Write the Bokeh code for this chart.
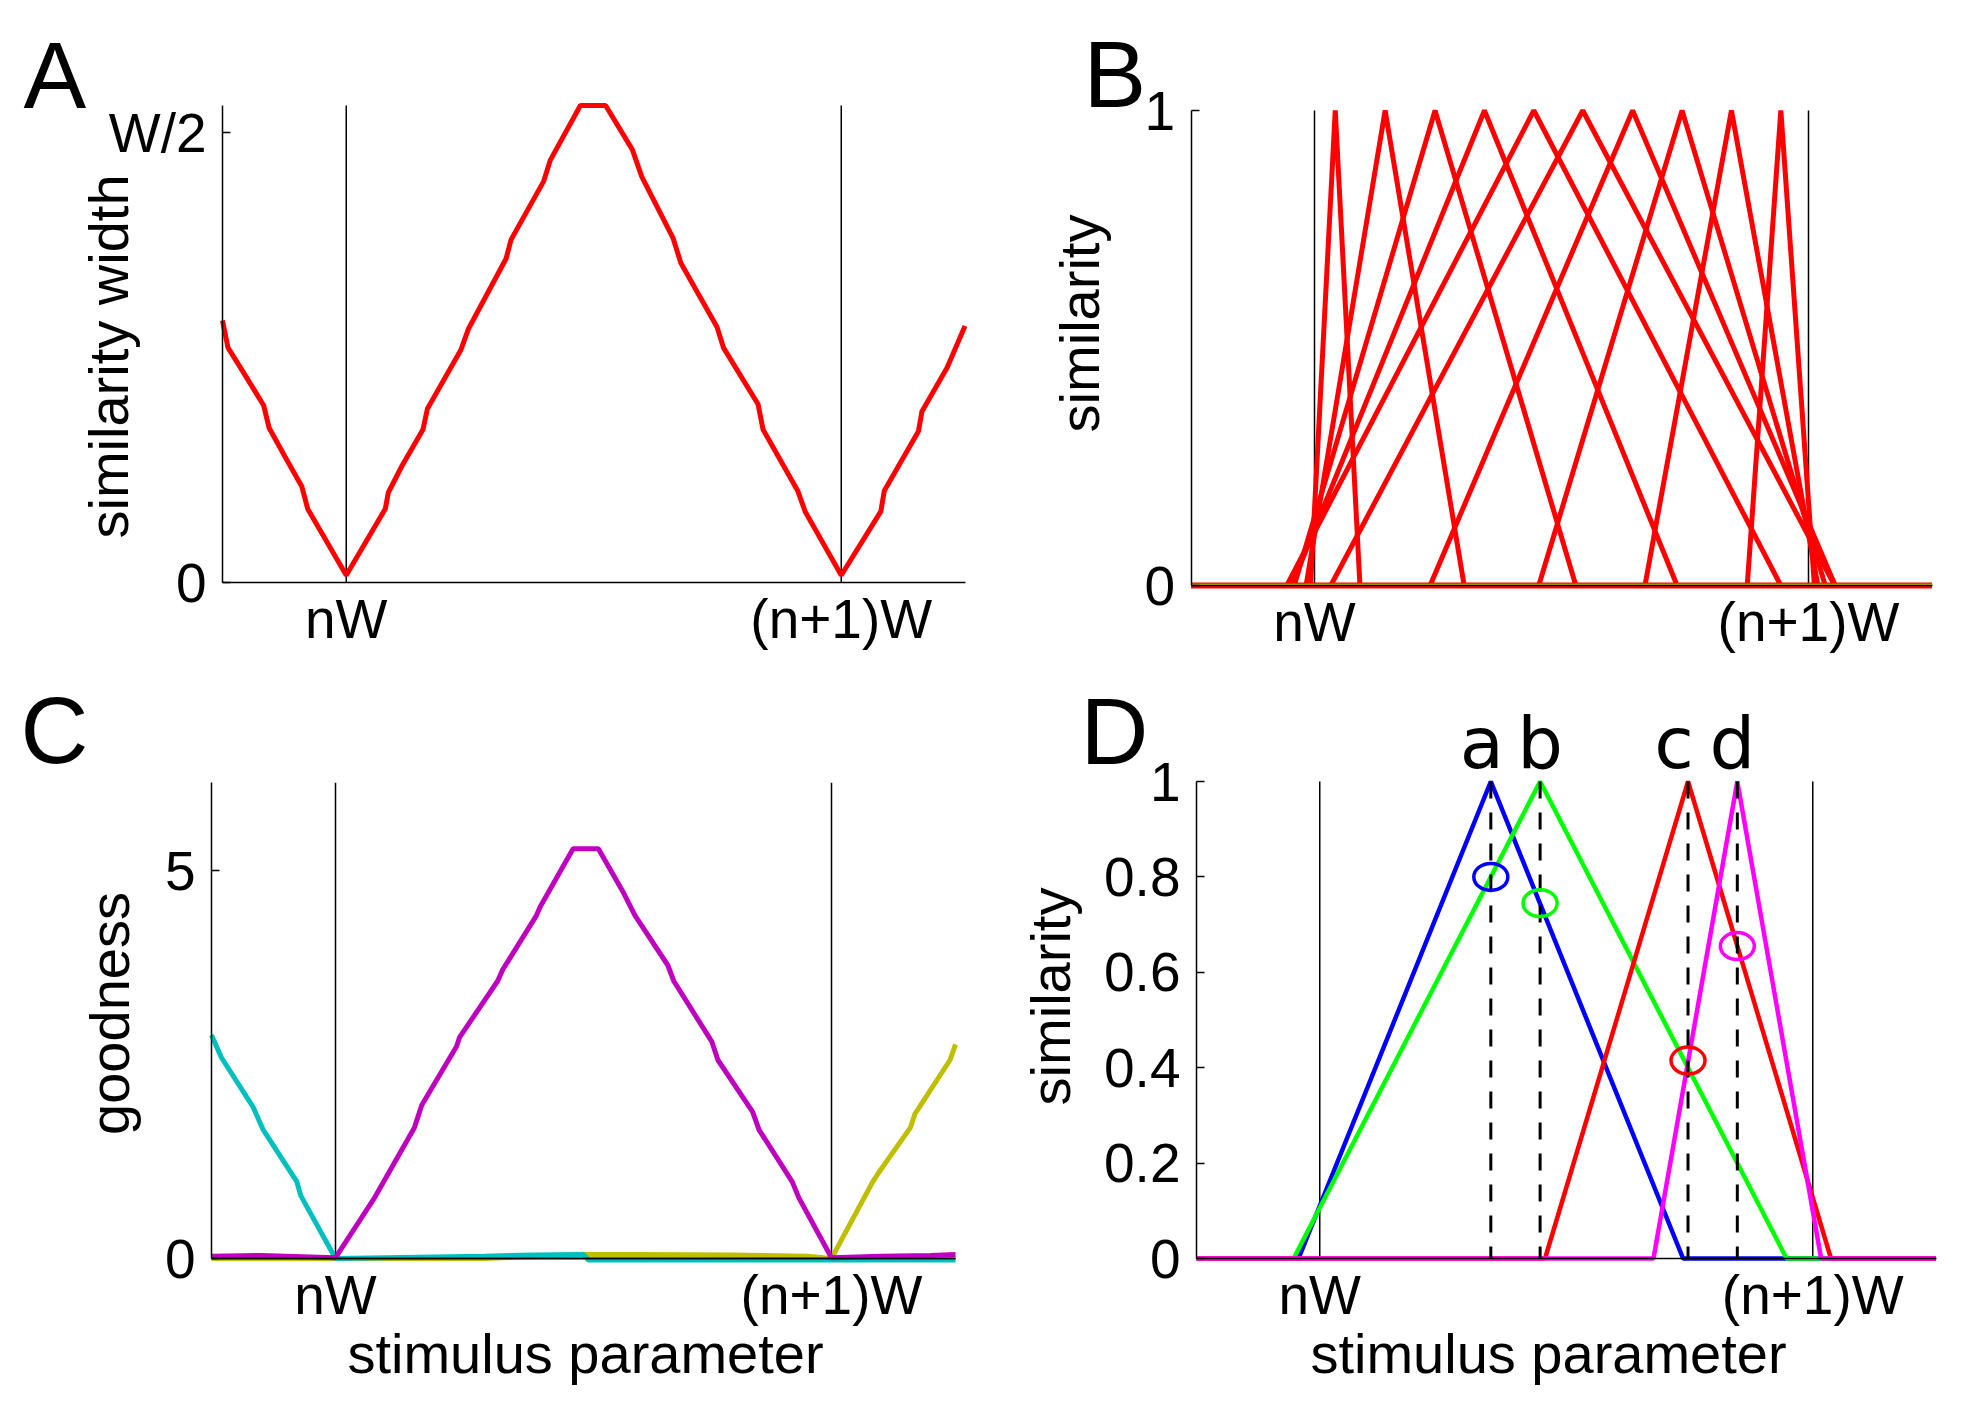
import numpy as np
from bokeh.plotting import figure
from bokeh.models import FixedTicker, Label, Range1d
from bokeh.layouts import column, row
from bokeh.embed import file_html
from bokeh.resources import INLINE

# ---------------- data ----------------
X_TICKS = [0, 1]
X_TICK_LABELS = {0: "nW", 1: "(n+1)W"}
BOUNDS = [0, 1]  # nW and (n+1)W
XMIN, XMAX = -0.25, 1.25

# Panel A: similarity width vs stimulus parameter
A_x = [-0.25, -0.239, -0.214, -0.167, -0.156, -0.122, -0.090, -0.078, 0.0, 0.079, 0.085,
       0.113, 0.155, 0.164, 0.232, 0.247, 0.323, 0.333, 0.399, 0.412, 0.473, 0.524, 0.578,
       0.597, 0.660, 0.676, 0.749, 0.762, 0.832, 0.842, 0.912, 0.927, 1.0, 1.080, 1.087,
       1.156, 1.163, 1.214, 1.25]
A_y = [0.291, 0.261, 0.239, 0.197, 0.172, 0.138, 0.107, 0.082, 0.008, 0.082, 0.100,
       0.130, 0.170, 0.193, 0.259, 0.282, 0.360, 0.381, 0.446, 0.469, 0.530, 0.530, 0.481,
       0.451, 0.383, 0.355, 0.284, 0.261, 0.198, 0.170, 0.102, 0.079, 0.008, 0.079, 0.102,
       0.168, 0.190, 0.239, 0.285]
A_yticks = [0, 0.5]
A_ylabels = {0: "0", 0.5: "W/2"}

# Panel B: similarity functions (triangles)
B_peaks = [0.042, 0.143, 0.244, 0.344, 0.444, 0.543, 0.644, 0.744, 0.844, 0.944]
B_halfwidth = [0.05, 0.16, 0.285, 0.39, 0.50, 0.51, 0.41, 0.29, 0.175, 0.068]
B_yticks = [0, 1]

# Panel C: goodness
C_cyan_x = [-0.25, -0.230, -0.166, -0.146, -0.078, -0.070, 0.0, 0.1, 0.2, 0.3, 0.4, 0.5,
            0.51, 0.7, 0.9, 1.0, 1.1, 1.25]
C_cyan_y = [2.88, 2.59, 1.95, 1.66, 0.99, 0.81, 0.0, 0.01, 0.02, 0.03, 0.045, 0.05,
            -0.02, -0.02, -0.02, -0.02, -0.02, -0.02]
C_mag_x = [-0.25, -0.15, -0.05, 0.0, 0.079, 0.159, 0.174, 0.244, 0.250, 0.327, 0.337, 0.405,
           0.413, 0.479, 0.530, 0.581, 0.604, 0.670, 0.682, 0.759, 0.771, 0.841, 0.854,
           0.921, 0.934, 1.0, 1.1, 1.2, 1.25]
C_mag_y = [0.03, 0.04, 0.02, 0.01, 0.785, 1.686, 1.977, 2.733, 2.849, 3.576, 3.721, 4.419,
           4.535, 5.279, 5.279, 4.709, 4.419, 3.779, 3.576, 2.791, 2.558, 1.890, 1.657,
           0.988, 0.785, 0.01, 0.03, 0.04, 0.05]
C_olive_x = [-0.25, 0.0, 0.3, 0.5, 0.6, 0.8, 0.95, 1.0, 1.083, 1.095, 1.159, 1.168, 1.239, 1.25]
C_olive_y = [0.0, 0.0, 0.0, 0.05, 0.05, 0.045, 0.03, 0.0, 0.988, 1.105, 1.686, 1.86, 2.558, 2.76]
C_red_x = [-0.25, 1.25]
C_red_y = [0.0, 0.0]
C_yticks = [0, 5]

# Panel D: four stimuli a-d
D_names = ["a", "b", "c", "d"]
D_peaks = [0.347, 0.447, 0.747, 0.847]
D_halfwidth = [0.39, 0.50, 0.29, 0.17]
D_circle_y = [0.80, 0.745, 0.415, 0.655]
D_colors = ["#0000ff", "#00ff00", "#ff0000", "#ff00ff"]
D_yticks = [0, 0.2, 0.4, 0.6, 0.8, 1]
D_ylabels = {0: "0", 0.2: "0.2", 0.4: "0.4", 0.6: "0.6", 0.8: "0.8", 1: "1"}

# ---------------- styling / layout helpers ----------------
FONT = "Liberation Sans"
TICK_FS = "55px"
LABEL_FS = "56px"
LETTER_FS = "94px"
ROW1_TOP, ROW2_TOP, PAGE_BOTTOM = 8, 670, 1404


class Panel:
    """A figure whose frame covers its whole page box; axes sit at fixed data locations."""

    def __init__(self, box, px_xmin, ppu_x, px_zero, ppu_y, ytop, yticks, yover=None):
        bx, by, bw, bh = box
        self.bx, self.by = bx, by
        self.ppu_x, self.ppu_y, self.px_zero = ppu_x, ppu_y, px_zero
        self.x0 = XMIN - (px_xmin - bx) / ppu_x
        x1 = self.x0 + bw / ppu_x
        y1 = (px_zero - by) / ppu_y
        y0 = y1 - bh / ppu_y
        p = figure(width=bw, height=bh, x_range=Range1d(self.x0, x1),
                   y_range=Range1d(y0, y1), output_backend="svg",
                   toolbar_location=None, min_border=0)
        p.min_border_left = p.min_border_right = 0
        p.min_border_top = p.min_border_bottom = 0
        p.grid.visible = False
        p.outline_line_color = None
        p.background_fill_color = "white"
        p.border_fill_color = "white"

        xa = p.xaxis[0]
        xa.fixed_location = 0
        xa.bounds = (XMIN, XMAX)
        xa.ticker = FixedTicker(ticks=X_TICKS)
        xa.major_label_overrides = X_TICK_LABELS
        xa.axis_line_color = "black"
        xa.axis_line_width = 1.5
        xa.major_tick_line_color = None
        xa.major_tick_in = 0
        xa.major_tick_out = 0
        xa.minor_tick_line_color = None
        xa.major_label_text_font = FONT
        xa.major_label_text_font_size = TICK_FS
        xa.major_label_text_color = "black"
        xa.major_label_standoff = 5

        ya = p.yaxis[0]
        ya.fixed_location = XMIN
        ya.bounds = (0, ytop)
        ya.ticker = FixedTicker(ticks=yticks)
        if yover:
            ya.major_label_overrides = yover
        ya.axis_line_color = "black"
        ya.axis_line_width = 1.5
        ya.major_tick_line_color = "black"
        ya.major_tick_line_width = 1.5
        ya.major_tick_in = 8
        ya.major_tick_out = 0
        ya.minor_tick_line_color = None
        ya.major_label_text_font = FONT
        ya.major_label_text_font_size = TICK_FS
        ya.major_label_text_color = "black"
        ya.major_label_standoff = 16

        # the two boundary lines nW and (n+1)W
        p.segment(x0=BOUNDS, y0=[0] * len(BOUNDS), x1=BOUNDS, y1=[ytop] * len(BOUNDS),
                  line_color="black", line_width=1.5)
        self.p = p

    def dx(self, px):
        return self.x0 + (px - self.bx) / self.ppu_x

    def dy(self, py):
        return (self.px_zero - py) / self.ppu_y

    def text(self, px, py, text, size, align="left", baseline="alphabetic", angle=0.0,
             font=FONT):
        self.p.add_layout(Label(x=self.dx(px), y=self.dy(py), text=text, text_font=font,
                                text_font_size=size, text_align=align,
                                text_baseline=baseline, angle=angle, text_color="black"))


H1 = ROW2_TOP - ROW1_TOP
H2 = PAGE_BOTTOM - ROW2_TOP

# ---------------- Panel A ----------------
A_top = max(A_y)
PA = Panel((8, ROW1_TOP, 992, H1), 230, 495, 590, 900, A_top, A_yticks, A_ylabels)
PA.p.line(A_x, A_y, line_color="#ff0000", line_width=5)
PA.text(31, 83, "A", LETTER_FS)
PA.text(116, 364, "similarity width", LABEL_FS, align="center", baseline="middle",
        angle=np.pi / 2)

# ---------------- Panel B ----------------
PB = Panel((1000, ROW1_TOP, 955, H1), 1198.5, 494, 593, 475, 1.0, B_yticks)
bx, by = [], []
for pk, hw in zip(B_peaks, B_halfwidth):
    bx.append([XMIN, pk - hw, pk, pk + hw, XMAX])
    by.append([0, 0, 1, 0, 0])
PB.p.multi_line(bx, by, line_color="#ff0000", line_width=5)
PB.p.line([XMIN, XMAX], [0, 0], line_color="#ff0000", line_width=6)
PB.p.line([XMIN, XMAX], [0.002, 0.002], line_color="#c8c800", line_width=1.5)
PB.text(1091, 82, "B", LETTER_FS)
PB.text(1087, 331, "similarity", LABEL_FS, align="center", baseline="middle",
        angle=np.pi / 2)

# ---------------- Panel C ----------------
C_top = 6.13
PC = Panel((8, ROW2_TOP, 992, H2), 219, 496, 1266, 77.6, C_top, C_yticks)
PC.p.line(C_olive_x, C_olive_y, line_color="#bfbf00", line_width=5)
PC.p.line(C_cyan_x, C_cyan_y, line_color="#00bfbf", line_width=5)
PC.p.line(C_mag_x, C_mag_y, line_color="#bf00bf", line_width=5)
PC.p.line(C_red_x, C_red_y, line_color="#ff0000", line_width=2)
PC.text(28, 738, "C", LETTER_FS)
PC.text(117, 1021, "goodness", LABEL_FS, align="center", baseline="middle",
        angle=np.pi / 2)
PC.text(593, 1361, "stimulus parameter", LABEL_FS, align="center")

# ---------------- Panel D ----------------
PD = Panel((1000, ROW2_TOP, 955, H2), 1204, 493, 1266, 477, 1.0, D_yticks, D_ylabels)
for pk, hw, col in zip(D_peaks, D_halfwidth, D_colors):
    PD.p.line([XMIN, pk - hw, pk, pk + hw, XMAX], [0, 0, 1, 0, 0], line_color=col,
              line_width=4.5)
PD.p.segment(x0=D_peaks, y0=[1] * 4, x1=D_peaks, y1=[0] * 4, line_color="black",
             line_width=3, line_dash="17 14")
PD.p.ellipse(x=D_peaks, y=D_circle_y, width=34, height=27, width_units="screen",
             height_units="screen", fill_color=None, line_color=D_colors, line_width=3.5)
letter_shift_px = [-9, 0, -14, -5]
for nm, pk, sh in zip(D_names, D_peaks, letter_shift_px):
    px = 1204 + (pk - XMIN) * 493 + sh
    PD.text(px, 750, nm, "72px", align="center", font="DejaVu Sans")
PD.text(1088, 739, "D", LETTER_FS)
PD.text(1058, 1004, "similarity", LABEL_FS, align="center", baseline="middle",
        angle=np.pi / 2)
PD.text(1556, 1361, "stimulus parameter", LABEL_FS, align="center")

layout = column(row(PA.p, PB.p), row(PC.p, PD.p))
open("out.html", "w").write(file_html(layout, INLINE))
